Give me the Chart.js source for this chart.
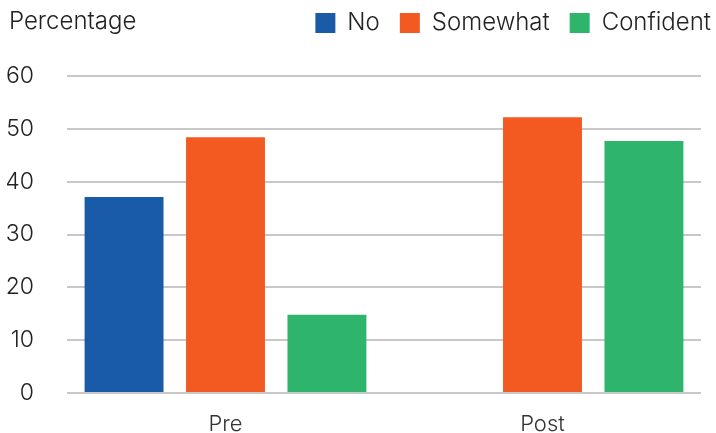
<!DOCTYPE html>
<html lang="en">
<head>
    <meta charset="UTF-8">
    <title>Percentage Pre / Post</title>
    <script src="https://cdn.jsdelivr.net/npm/chart.js"></script>
    <style>
        body {
            margin: 0;
            background: #fff;
        }
        .wrap {
            position: relative;
            width: 716px;
            height: 433px;
        }
        .ytitle {
            position: absolute;
            left: 9px;
            top: 6px;
            font-family: Inter, sans-serif;
            font-weight: 300;
            font-size: 24px;
            color: #222;
        }
    </style>
</head>
<body>
    <div class="wrap">
        <canvas id="myChart" width="716" height="433"></canvas>
        <div class="ytitle">Percentage</div>
    </div>

    <script>
        const categories = ['Pre', 'Post'];
        const seriesNames = ['No', 'Somewhat', 'Confident'];
        const noValues = [37.1, null];
        const somewhatValues = [48.4, 52.2];
        const confidentValues = [14.8, 47.7];
        const seriesColors = ['#1a5ba8', '#f25a22', '#2eb56b'];
        const yTicks = [0, 10, 20, 30, 40, 50, 60];

        const fontFamily = 'Inter, sans-serif';

        // give the legend some extra room underneath
        const legendSpace = {
            id: 'legendSpace',
            beforeInit(chart) {
                if (!chart.legend) return;
                const fit = chart.legend.fit;
                chart.legend.fit = function () {
                    fit.bind(chart.legend)();
                    this.height += 31;
                };
            }
        };

        const ctx = document.getElementById('myChart').getContext('2d');
        new Chart(ctx, {
            type: 'bar',
            data: {
                labels: categories,
                datasets: [noValues, somewhatValues, confidentValues].map((vals, i) => ({
                    label: seriesNames[i],
                    data: vals,
                    backgroundColor: seriesColors[i],
                    borderWidth: 0,
                    categoryPercentage: 0.96,
                    barPercentage: 0.778
                }))
            },
            plugins: [legendSpace],
            options: {
                responsive: false,
                animation: false,
                layout: {
                    padding: { left: 7, right: -15, top: -9, bottom: -22 }
                },
                plugins: {
                    tooltip: { enabled: false },
                    legend: {
                        position: 'top',
                        align: 'end',
                        labels: {
                            boxWidth: 20,
                            boxHeight: 20,
                            padding: 20,
                            color: '#222',
                            font: { family: fontFamily, size: 24, weight: 300 }
                        }
                    }
                },
                scales: {
                    x: {
                        grid: { display: false, drawTicks: false },
                        border: { display: false },
                        ticks: {
                            color: '#333',
                            padding: 20,
                            font: { family: fontFamily, size: 22, weight: 300, lineHeight: 1 }
                        }
                    },
                    y: {
                        min: 0,
                        max: 60,
                        afterBuildTicks: (axis) => {
                            axis.ticks = yTicks.map(v => ({ value: v }));
                        },
                        afterFit: (axis) => {
                            // the big label padding should not push the plot down
                            axis.width = 60;
                            axis.paddingTop = 0;
                            axis.paddingBottom = 0;
                        },
                        grid: {
                            color: '#c8c8c8',
                            lineWidth: 2,
                            drawTicks: false
                        },
                        border: { display: false },
                        ticks: {
                            color: '#222',
                            padding: 33,
                            font: { family: fontFamily, size: 23, weight: 300 }
                        }
                    },
                    yRight: {
                        position: 'right',
                        display: true,
                        grid: { display: false },
                        border: { display: false },
                        ticks: { display: false },
                        afterFit: (axis) => { axis.width = 30; }
                    }
                }
            }
        });
    </script>
</body>
</html>
